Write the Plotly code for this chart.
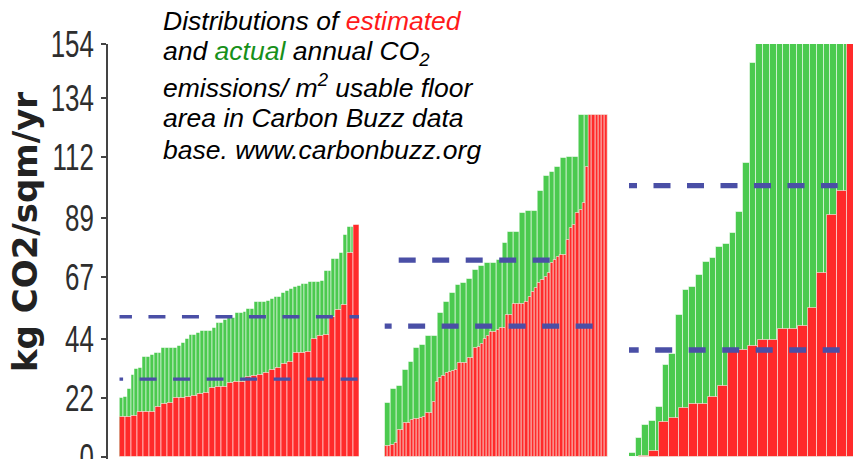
import numpy as np
import plotly.graph_objects as go

# ---- data -----------------------------------------------------------------
Y_TICKS = [0, 22, 44, 67, 89, 112, 134, 154]

# Panel 1: sorted actual (green) and estimated (red) kg CO2/m2/yr
P1_ACTUAL = [22, 22.5, 25.5, 30.6, 32.7, 33, 37.2, 37.2, 38, 38.7,
             38.7, 40.5, 40.8, 40.8, 40.8, 41.5, 42.6, 43.9, 45.5, 45.5,
             46.1, 47, 47, 47, 48.2, 50.1, 50.1, 51.1, 51.7, 51.7,
             53.6, 53.6, 54.2, 55.1, 55.1, 57.9, 57.9, 57.9, 58.3, 58.9,
             59.8, 59.8, 61, 61.9, 62.5, 63.3, 63.9, 64.5, 64.5, 65.1,
             65.1, 65.1, 65.6, 69.4, 69.4, 73.7, 73.7, 76.2, 82.8, 85.9,
             85.9, 86.5]
P1_ESTIMATED = [15.0, 15.0, 15.4, 16.8, 16.8, 16.8, 18.8, 19.6, 20.3, 21.9,
                21.9, 22.5, 22.7, 23.5, 24, 25.6, 26.2, 26.2, 27.7, 28.1,
                28.1, 29.7, 30.2, 30.6, 31.2, 32.4, 33.1, 34.7, 35.3, 38.7,
                38.7, 39.3, 43.9, 45.1, 45.5, 52.3, 54.8, 56.7, 76, 86.5]

# Panel 2
P2_ACTUAL = [20.2, 25.2, 26.5, 32.4, 35.5, 40.8, 41.6, 45.1, 45.1, 53.6,
             57.9, 61.3, 64.1, 65, 66.3, 69.7, 71.3, 72.2, 72.2, 73.4,
             79.7, 83.8, 83.8, 90.9, 91.8, 91.8, 99.3, 104.7, 106.4, 108.2,
             111.6, 111.7, 111.7, 127.5, 127.5, 127.5, 127.5, 127.5]
P2_ESTIMATED = [4.2, 4.2, 4.5, 5.1, 10.1, 10.1, 12.8, 12.8, 13.8, 14.1,
                14.1, 14.4, 15.0, 16.3, 16.3, 20.6, 28.1, 29.3, 30.2, 31.2,
                31.6, 32, 32.4, 34.9, 34.9, 34.9, 36.8, 36.8, 40.5, 41.1,
                42, 44.1, 45.2, 46.7, 46.7, 47.4, 48, 48, 52.9, 52.9,
                57, 57, 57, 57, 57.9, 59.8, 61.4, 63, 64.8, 66,
                67, 68.7, 72.2, 73.4, 74.7, 75.3, 75.3, 80.9, 85.3, 86.5,
                91.1, 92.1, 94.6, 108.2, 127.5, 127.5, 127.5, 127.5, 127.5, 127.5]

# Panel 3
P3_ACTUAL = [1.5, 7, 11.9, 13.5, 18.8, 34.3, 38.4, 52.9, 62.3, 63.5,
             67.9, 72.8, 74.1, 78.2, 79.3, 83.6, 91.2, 109.5, 146.8, 154,
             154, 154, 154, 154, 154, 154, 154, 154, 154, 154,
             154, 154, 154, 154]
P3_ESTIMATED = [0.1, 0.4, 2.4, 12.9, 14.4, 18.4, 19.8, 19.8, 22.5, 26.5,
                39.5, 39.9, 41.4, 43.6, 43.6, 47.6, 47.8, 49, 55.4, 68.5,
                90.2, 99.2, 154]

# Mean levels drawn as dashed lines in each panel
MEAN_ACTUAL = [52.3, 73.4, 101.2]
MEAN_ESTIMATED = [29.0, 48.8, 39.9]

PANELS = [(P1_ACTUAL, P1_ESTIMATED), (P2_ACTUAL, P2_ESTIMATED), (P3_ACTUAL, P3_ESTIMATED)]

TITLE_LINES = [
    "Distributions of <span style='color:#ff1a1a'>estimated</span>",
    "and <span style='color:#17901a'>actual</span> annual CO<sub>2</sub>",
    "emissions/ m<sup>2</sup> usable floor",
    "area in Carbon Buzz data",
    "base. www.carbonbuzz.org",
]

# ---- styling / layout ---------------------------------------------------------
W, H = 853, 459
ML, MT, MR, MB = 107, 44, 0, 0
PW = W - ML - MR
PH = H - MT - MB

RED = "#ff2a2a"
GREEN = "#4bca4f"
BLUE = "#4a4fa6"
SEP = "rgba(255,255,255,0.55)"


def px_dom(a, b):
    return [(a - ML) / PW, (b - ML) / PW]


def py_paper(y):
    return (H - MB - y) / PH


DOMAINS = [px_dom(119.5, 359), px_dom(384.7, 608), px_dom(629, 853)]
VISIBLE = [1.0, 1.0, 0.982]          # last panel runs off the right edge
SPANS_ACT = [(-0.019, 1.0), (0.0627, 0.756), (-0.0402, 0.9317)]
SPANS_EST = [(-0.056, 1.0), (-0.045, 1.0), (-0.0326, 0.9509)]
DASH_W = [3.3, 5.3, 5.3]
DASH = "17px,16.5px"

fig = go.Figure()
layout_axes = {}

for p, (act, est) in enumerate(PANELS):
    gi, ri = 2 * p + 1, 2 * p + 2
    gref = "x" if gi == 1 else f"x{gi}"
    rref = f"x{ri}"
    g_range = [-0.5, -0.5 + len(act) * VISIBLE[p]]
    r_range = [-0.5, -0.5 + len(est) * VISIBLE[p]]

    fig.add_trace(go.Bar(
        x=np.arange(len(act)), y=act, width=1,
        marker=dict(color=GREEN, line=dict(color=SEP, width=1)),
        xaxis=gref, yaxis="y", hoverinfo="skip"))
    fig.add_trace(go.Bar(
        x=np.arange(len(est)), y=est, width=1,
        marker=dict(color=RED, line=dict(color=SEP, width=1)),
        xaxis=rref, yaxis="y", hoverinfo="skip"))

    for mean, span in ((MEAN_ACTUAL[p], SPANS_ACT[p]), (MEAN_ESTIMATED[p], SPANS_EST[p])):
        xs = [r_range[0] + f * (r_range[1] - r_range[0]) for f in span]
        fig.add_trace(go.Scatter(
            x=xs, y=[mean, mean], mode="lines",
            line=dict(color=BLUE, width=DASH_W[p], dash=DASH),
            xaxis=rref, yaxis="y", hoverinfo="skip"))

    gkey = "xaxis" if gi == 1 else f"xaxis{gi}"
    layout_axes[gkey] = dict(domain=DOMAINS[p], range=g_range, visible=False,
                             anchor="y", fixedrange=True)
    layout_axes[f"xaxis{ri}"] = dict(domain=DOMAINS[p], range=r_range, visible=False,
                                     anchor="y", overlaying=gref, fixedrange=True)

fig.update_layout(
    width=W, height=H,
    margin=dict(l=ML, r=MR, t=MT, b=MB, pad=0, autoexpand=False),
    paper_bgcolor="white", plot_bgcolor="white",
    showlegend=False, barmode="overlay", bargap=0,
    yaxis=dict(
        range=[-0.75, 154], domain=[0, 1], anchor="free", position=0,
        tickvals=Y_TICKS, ticktext=[str(v) for v in Y_TICKS],
        showline=True, linecolor="#444", linewidth=1.5,
        ticks="outside", ticklen=5, tickwidth=1.5, tickcolor="#444",
        ticklabeloverflow="allow", automargin=False,
        tickfont=dict(family="Liberation Sans, Arial, sans-serif",
                      size=37, color="#2e2e2e"),
        showgrid=False, zeroline=False, fixedrange=True,
    ),
    **layout_axes,
)

# Caption, one annotation per line
LINE_CENTERS = [21, 53, 85.5, 118, 150]
for text, yc in zip(TITLE_LINES, LINE_CENTERS):
    fig.add_annotation(
        text=text, xref="paper", yref="paper",
        x=(161 - ML) / PW, y=py_paper(yc), xanchor="left", yanchor="middle",
        align="left", showarrow=False,
        font=dict(family="Liberation Sans, Arial, sans-serif", size=26.5, color="black",
                  style="italic"),
    )

fig.add_annotation(
    text="kg CO2/sqm/yr", xref="paper", yref="paper",
    x=(25 - ML) / PW, y=py_paper(232), xanchor="center", yanchor="middle",
    textangle=-90, showarrow=False,
    font=dict(family="DejaVu Sans, sans-serif", size=34, color="#222", weight="bold"),
)

# Condensed look for the y tick numbers: squeeze each label horizontally
# about its right edge (labels are right-anchored next to the ticks).
SQUEEZE_JS = """
var gd = document.getElementById('{plot_id}');
function squeezeTicks() {
  gd.querySelectorAll('.yaxislayer-above .ytick text').forEach(function (t) {
    var base = t.getAttribute('data-base-tf');
    if (base === null) { base = t.getAttribute('transform') || ''; t.setAttribute('data-base-tf', base); }
    var x = parseFloat(t.getAttribute('x')) || 0;
    t.setAttribute('transform', base + ' translate(' + x + ',0) scale(0.7,1) translate(' + (-x) + ',0)');
  });
}
squeezeTicks();
"""

fig.write_html("out.html", post_script=SQUEEZE_JS)
